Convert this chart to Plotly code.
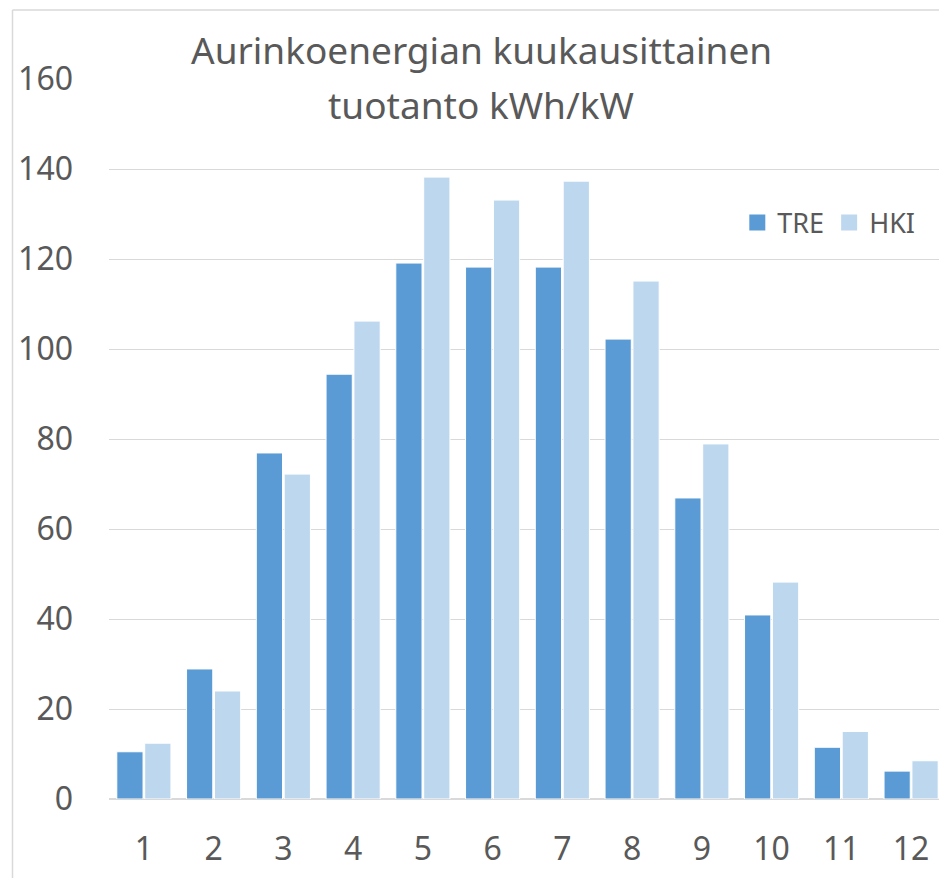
import plotly.graph_objects as go

months = [str(i) for i in range(1, 13)]
tre = [10.5, 28.9, 76.9, 94.4, 119.1, 118.2, 118.2, 102.2, 66.9, 40.9, 11.5, 6.2]
hki = [12.4, 24.0, 72.2, 106.2, 138.2, 133.1, 137.3, 115.1, 78.9, 48.2, 15.0, 8.5]
y_ticks = [0, 20, 40, 60, 80, 100, 120, 140, 160]
series_names = ["TRE", "HKI"]
series_colors = ["#5B9BD5", "#BDD7EE"]

FONT = "Noto Sans"
GRAY = "#595959"

fig = go.Figure()
for name, vals, col in zip(series_names, [tre, hki], series_colors):
    fig.add_trace(go.Bar(x=list(range(1, 13)), y=vals, name=name, showlegend=False,
                         marker=dict(color=col, line=dict(color="white", width=1))))
# legend entries with larger square symbols
for name, col in zip(series_names, series_colors):
    fig.add_trace(go.Scatter(x=[None], y=[None], mode="markers", name=name,
                             marker=dict(symbol="square", size=18, color=col)))

fig.update_layout(
    width=939, height=878,
    margin=dict(l=109, r=0, t=79, b=79),
    paper_bgcolor="white", plot_bgcolor="white",
    barmode="group", bargap=0.2, bargroupgap=0.06,
    font=dict(family=FONT, color=GRAY),
    showlegend=True,
    legend=dict(orientation="h", x=0.757, y=(799 - 223) / 720, xanchor="left", yanchor="middle",
                font=dict(size=27, color=GRAY), bgcolor="rgba(0,0,0,0)", itemclick=False),
    xaxis=dict(range=[0.5, 12.40], tickvals=list(range(1, 13)), ticktext=months,
               showgrid=False, showline=False, zeroline=False, ticks="",
               tickfont=dict(size=32, color=GRAY), ticklabelstandoff=28),
    yaxis=dict(range=[0, 160], tickvals=y_ticks, showgrid=True, gridcolor="#d9d9d9", gridwidth=1,
               zeroline=True, zerolinecolor="#d9d9d9", zerolinewidth=1.5, showline=False, ticks="",
               tickfont=dict(size=32, color=GRAY), ticklabelstandoff=35),
)

tx = (481 - 109) / 830
fig.add_annotation(text="Aurinkoenergian kuukausittainen", xref="paper", yref="paper",
                   x=tx, y=1 + (79 - 50) / 720, xanchor="center", yanchor="middle",
                   showarrow=False, font=dict(size=37, color=GRAY, family=FONT))
fig.add_annotation(text="tuotanto kWh/kW", xref="paper", yref="paper",
                   x=tx, y=1 + (79 - 105) / 720, xanchor="center", yanchor="middle",
                   showarrow=False, font=dict(size=37, color=GRAY, family=FONT))

# outer chart border (left and top)
x_left = (12.5 - 109) / 830
y_top = 1 + (79 - 10) / 720
fig.add_shape(type="line", xref="paper", yref="paper", x0=x_left, x1=x_left, y0=-0.2, y1=y_top,
              line=dict(color="#d9d9d9", width=1.5))
fig.add_shape(type="line", xref="paper", yref="paper", x0=x_left, x1=1.1, y0=y_top, y1=y_top,
              line=dict(color="#d9d9d9", width=1.5))

fig.write_html("out.html", config={"displayModeBar": False},
               post_script="document.body.style.margin='0';document.body.style.overflow='hidden';")
